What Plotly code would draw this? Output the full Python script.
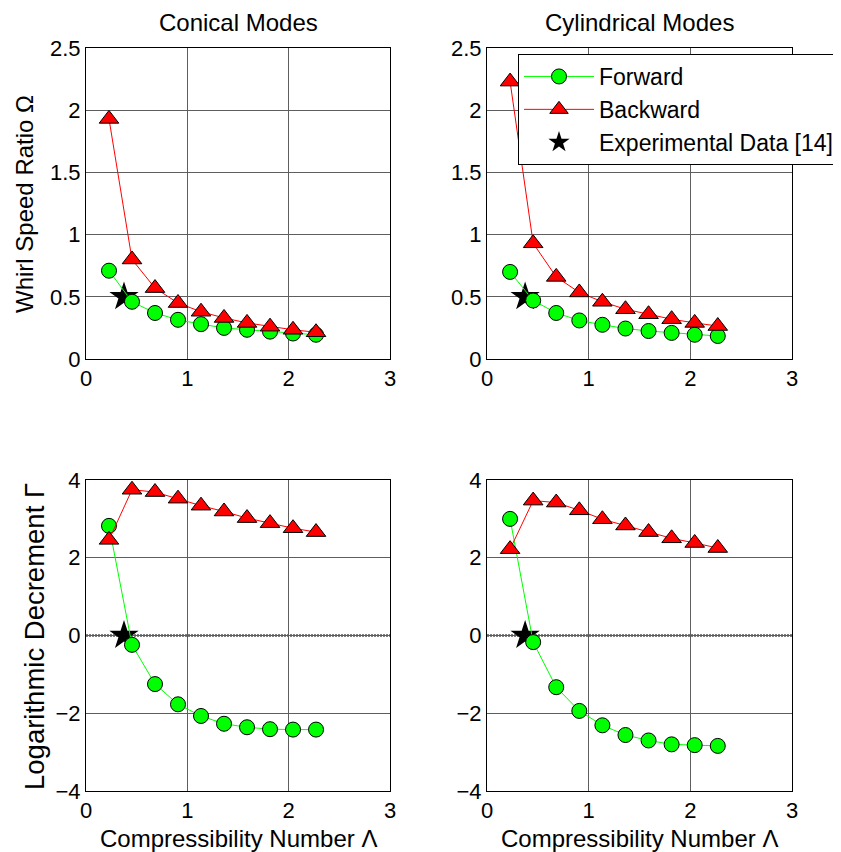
import plotly.graph_objects as go

# ---- data ----
lam = [0.227, 0.454, 0.681, 0.908, 1.135, 1.362, 1.589, 1.816, 2.043, 2.270]

con_whirl_fwd = [0.71, 0.46, 0.37, 0.315, 0.28, 0.25, 0.235, 0.22, 0.205, 0.195]
con_whirl_bwd = [1.93, 0.80, 0.57, 0.45, 0.38, 0.33, 0.29, 0.26, 0.235, 0.215]
cyl_whirl_fwd = [0.70, 0.47, 0.37, 0.31, 0.275, 0.245, 0.225, 0.21, 0.195, 0.185]
cyl_whirl_bwd = [2.23, 0.93, 0.66, 0.535, 0.46, 0.40, 0.36, 0.32, 0.29, 0.265]

con_dec_fwd = [2.82, -0.24, -1.25, -1.77, -2.07, -2.27, -2.36, -2.41, -2.42, -2.42]
con_dec_bwd = [2.46, 3.75, 3.69, 3.52, 3.34, 3.19, 3.02, 2.89, 2.76, 2.66]
cyl_dec_fwd = [3.00, -0.17, -1.33, -1.94, -2.31, -2.56, -2.70, -2.80, -2.82, -2.84]
cyl_dec_bwd = [2.22, 3.47, 3.42, 3.22, 2.99, 2.83, 2.66, 2.50, 2.38, 2.25]

exp_lam = [0.375]
exp_whirl = [0.5]
exp_dec = [0.0]

subplot_titles = ["Conical Modes", "Cylindrical Modes"]
x_ticks = [0, 1, 2, 3]
whirl_ticks = [0, 0.5, 1, 1.5, 2, 2.5]
dec_ticks = [-4, -2, 0, 2, 4]

FONT = "Liberation Sans, Arial, sans-serif"
GREEN = "#00FF00"
RED = "#FF0000"

fig = go.Figure()

panels = [
    ("x", "y", con_whirl_fwd, con_whirl_bwd, exp_whirl, False),
    ("x2", "y2", cyl_whirl_fwd, cyl_whirl_bwd, exp_whirl, True),
    ("x3", "y3", con_dec_fwd, con_dec_bwd, exp_dec, False),
    ("x4", "y4", cyl_dec_fwd, cyl_dec_bwd, exp_dec, False),
]

for xa, ya, fwd, bwd, ex, show in panels:
    fig.add_trace(go.Scatter(
        x=exp_lam, y=ex, mode="markers", name="Experimental Data [14]",
        marker=dict(symbol="star", size=22, color="black", line=dict(width=0)),
        xaxis=xa, yaxis=ya, showlegend=show, legendrank=3))
    fig.add_trace(go.Scatter(
        x=lam, y=fwd, mode="lines+markers", name="Forward",
        line=dict(color=GREEN, width=1),
        marker=dict(symbol="circle", size=15, color=GREEN, line=dict(color="black", width=1)),
        xaxis=xa, yaxis=ya, showlegend=show, legendrank=1))
    fig.add_trace(go.Scatter(
        x=lam, y=bwd, mode="lines+markers", name="Backward",
        line=dict(color=RED, width=1),
        marker=dict(symbol="triangle-up", size=17, color=RED, line=dict(color="black", width=1)),
        xaxis=xa, yaxis=ya, showlegend=show, legendrank=2))

# page body adds an 8px margin; figure coordinates below are reference pixels minus 8
OFF = 8
W, H = 841 - OFF, 852 - OFF


def px_x(v):
    return (v - OFF) / W


def px_y(v):
    return 1 - (v - OFF) / H


xdoms = [[px_x(86), px_x(390)], [px_x(487), px_x(792)]]
ydoms = [[px_y(359), px_y(48)], [px_y(791), px_y(480)]]

axis_common = dict(
    showline=True, linecolor="black", linewidth=1, mirror=True,
    showgrid=True, gridcolor="#5e5e5e", gridwidth=1, zeroline=False,
    ticks="", automargin=False,
    tickfont=dict(family=FONT, size=22, color="black"),
)

layout = dict(
    width=W, height=H, margin=dict(l=0, r=0, t=0, b=0, autoexpand=False),
    plot_bgcolor="white", paper_bgcolor="white",
    font=dict(family=FONT, color="black"),
    legend=dict(x=px_x(518), y=px_y(54), xanchor="left", yanchor="top",
                bgcolor="white", bordercolor="black", borderwidth=1,
                font=dict(family=FONT, size=23, color="black"),
                itemwidth=70, traceorder="normal"),
)

names = [("xaxis", "yaxis", 0, 0, "y", "x", whirl_ticks, [0, 2.5]),
         ("xaxis2", "yaxis2", 1, 0, "y2", "x2", whirl_ticks, [0, 2.5]),
         ("xaxis3", "yaxis3", 0, 1, "y3", "x3", dec_ticks, [-4, 4]),
         ("xaxis4", "yaxis4", 1, 1, "y4", "x4", dec_ticks, [-4, 4])]
for xn, yn, col, row, yanc, xanc, yt, yr in names:
    layout[xn] = dict(axis_common, domain=xdoms[col], anchor=yanc, range=[0, 3],
                      tickvals=x_ticks)
    layout[yn] = dict(axis_common, domain=ydoms[row], anchor=xanc, range=yr,
                      tickvals=yt)

fig.update_layout(**layout)

# dotted zero line in bottom panels
for xr, yr in [("x3 domain", "y3"), ("x4 domain", "y4")]:
    fig.add_shape(type="line", xref=xr, yref=yr, x0=0, x1=1, y0=0, y1=0,
                  line=dict(color="black", width=2, dash="2px,1px"), layer="below")

ann = [
    dict(text=subplot_titles[0], x=238, y=22, size=24, angle=0),
    dict(text=subplot_titles[1], x=639, y=22, size=24, angle=0),
    dict(text="Whirl Speed Ratio Ω", x=24, y=204, size=24, angle=-90),
    dict(text="Logarithmic Decrement Γ", x=34, y=637, size=27.5, angle=-90),
    dict(text="Compressibility Number Λ", x=238, y=838, size=24, angle=0),
    dict(text="Compressibility Number Λ", x=639, y=838, size=24, angle=0),
]
for a in ann:
    fig.add_annotation(text=a["text"], xref="paper", yref="paper",
                       x=px_x(a["x"]), y=px_y(a["y"]), xanchor="center", yanchor="middle",
                       showarrow=False, textangle=a["angle"],
                       font=dict(family=FONT, size=a["size"], color="black"))

fig.write_html("out.html")
